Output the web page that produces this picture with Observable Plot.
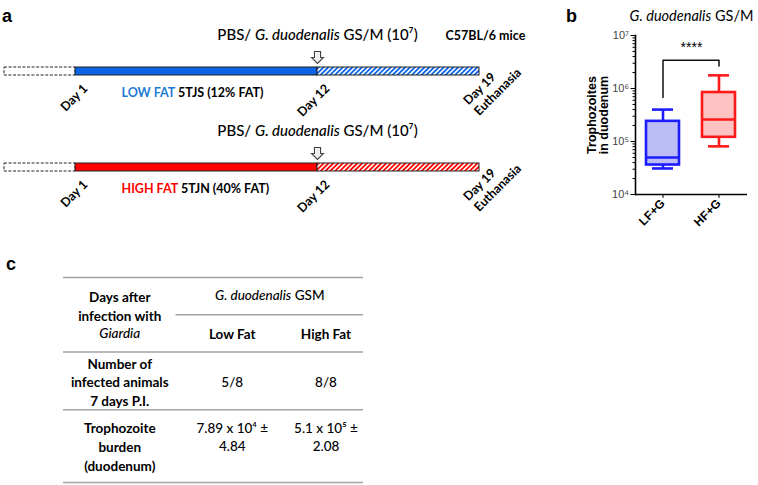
<!DOCTYPE html>
<html>
<head>
<meta charset="utf-8">
<script src="https://cdn.jsdelivr.net/npm/d3@7"></script>
<script src="https://cdn.jsdelivr.net/npm/@observablehq/plot@0.6"></script>
<style>
  body { margin: 0; background: #fff; }
  #wrap { position: relative; width: 758px; height: 485px; overflow: hidden; background: #fff; }
  .panel { position: absolute; }
  .letter { position: absolute; font: bold 18px "Liberation Sans", Arial, sans-serif; line-height: 1; color: #000; }
</style>
</head>
<body>
<div id="wrap">
  <div class="letter" style="left:2px;top:7px">a</div>
  <div class="letter" style="left:566px;top:7px">b</div>
  <div class="letter" style="left:6px;top:255px">c</div>
  <div id="panelA" class="panel" style="left:0;top:0;width:540px;height:235px"></div>
  <div id="panelB" class="panel" style="left:540px;top:0;width:218px;height:240px"></div>
  <div id="panelC" class="panel" style="left:0;top:255px;width:400px;height:230px"></div>
</div>
<script>
// ---------------- Panel a: experimental design ----------------
const diets = ["LOW FAT", "HIGH FAT"];
const dietFormulas = ["5TJS (12% FAT)", "5TJN (40% FAT)"];
const phaseNames = ["acclimation", "diet", "infection"];
const phaseStartDay = [-2, 1, 12];
const phaseEndDay = [1, 12, 19];
const dayMarks = [1, 12];
const dayMarkLabels = ["Day 1", "Day 12"];
const endDay = 19;
const endLabel = "Day 19\nEuthanasia";
const infectionDay = 12;
const inoculumLabel = "PBS/ _G. duodenalis_ GS/M (10⁷)";
const strainLabel = "C57BL/6 mice";

// ---------------- Panel b: trophozoites box plot ----------------
const groups = ["LF+G", "HF+G"];
const whiskerLow = [3.1e4, 8.1e4];
const quartile1 = [3.6e4, 1.2e5];
const medians = [5.0e4, 2.6e5];
const quartile3 = [2.4e5, 8.4e5];
const whiskerHigh = [4.0e5, 1.77e6];
const yMajorTicks = [1e4, 1e5, 1e6, 1e7];
const bracketLegBottom = [6.8e5, 2.65e6];
const bracketTop = 3.4e6;
const significance = "****";
const significanceY = 5.9e6;
const panelBTitle = "_G. duodenalis_ GS/M";
const panelBYLabel = "Trophozoites\nin duodenum";

// ---------------- Panel c: table ----------------
const tableGroupTitle = "_G. duodenalis_ GSM";
const tableColumns = ["Low Fat", "High Fat"];
const tableHeader = "Days after\ninfection with";
const tableHeaderItalic = "Giardia";
const rowLabels = ["Number of\ninfected animals\n7 days P.I.", "Trophozoite\nburden\n(duodenum)"];
const infectedAnimals = ["5/8", "8/8"];
const trophozoiteBurden = ["7.89 x 10⁴ ±\n4.84", "5.1 x 10⁵ ±\n2.08"];

// ---------------- styles ----------------
const dietBarColor = {"LOW FAT": "#0b63e6", "HIGH FAT": "#ff0000"};
const dietTextColor = {"LOW FAT": "#1c7bd6", "HIGH FAT": "#ff0000"};
const hatchId = {"LOW FAT": "hatch-blue", "HIGH FAT": "hatch-red"};
const boxStroke = {"LF+G": "#1c1cff", "HF+G": "#ff1a1a"};
const boxFill = {"LF+G": "#bcbcf7", "HF+G": "#ffc2c2"};
const calibriLike = "Lato, 'Open Sans', sans-serif";
const arialLike = "'Liberation Sans', Arial, sans-serif";

// rich text: _italic_ and {#color:text}
function richify(root) {
  root.querySelectorAll("text").forEach(t => {
    if (t.querySelector("tspan")) return;
    const s = t.textContent;
    if (!/_|\{#/.test(s)) return;
    t.textContent = "";
    const re = /_([^_]+)_|\{(#[0-9a-fA-F]+):([^}]+)\}|([^_{]+)/g;
    let m;
    while ((m = re.exec(s))) {
      const ts = document.createElementNS("http://www.w3.org/2000/svg", "tspan");
      if (m[1]) { ts.textContent = m[1]; ts.setAttribute("font-style", "italic"); }
      else if (m[2]) { ts.textContent = m[3]; ts.setAttribute("fill", m[2]); }
      else ts.textContent = m[4];
      t.appendChild(ts);
    }
  });
}

// ---------- Panel a ----------
const phaseRows = diets.flatMap(d => phaseNames.map((p, i) => ({diet: d, phase: p, start: phaseStartDay[i], end: phaseEndDay[i]})));
const dietRows = diets.map((d, i) => ({diet: d, label: `{${dietTextColor[d]}:${d}} ${dietFormulas[i]}`}));
const dayRows = diets.flatMap(d => dayMarks.map((day, i) => ({diet: d, day, label: dayMarkLabels[i]})));

const arrowSymbol = {
  draw(ctx, size) {
    const r = Math.sqrt(size / Math.PI);
    const h = 0.7 * r, sw = 0.36 * r, hw = 0.7 * r;
    ctx.moveTo(-sw, -h); ctx.lineTo(sw, -h); ctx.lineTo(sw, 0);
    ctx.lineTo(hw, 0); ctx.lineTo(0, h); ctx.lineTo(-hw, 0);
    ctx.lineTo(-sw, 0); ctx.closePath();
  }
};

const plotA = Plot.plot({
  width: 540, height: 235,
  style: {fontFamily: calibriLike, background: "transparent", color: "#000"},
  x: {type: "linear", domain: [phaseStartDay[0], ...phaseEndDay], range: [4, 75, 317, 479], axis: null},
  y: {type: "band", domain: diets, range: [66, 171.5], paddingInner: 0.912, paddingOuter: 0, axis: null},
  color: {type: "identity"},
  marks: [
    Plot.barX(phaseRows.filter(d => d.phase === "acclimation"), {
      x1: "start", x2: "end", y: "diet", fill: "white", stroke: "#222", strokeWidth: 1, strokeDasharray: "3,1.6"
    }),
    Plot.barX(phaseRows.filter(d => d.phase !== "acclimation"), {
      x1: "start", x2: "end", y: "diet",
      fill: d => d.phase === "diet" ? dietBarColor[d.diet] : `url(#${hatchId[d.diet]})`,
      stroke: "#222", strokeWidth: 1
    }),
    Plot.dot(dietRows, {x: () => infectionDay, y: "diet", dy: -14, r: 8.5, symbol: arrowSymbol, fill: "#f0f0f0", stroke: "#444", strokeWidth: 1.1}),
    Plot.text(dietRows, {x: () => infectionDay, y: "diet", text: () => inoculumLabel, dy: -36, fontSize: 15, fontWeight: 500}),
    Plot.text([strainLabel], {x: () => endDay, y: () => diets[0], text: d => d, textAnchor: "start", dx: -34, dy: -36, fontSize: 12.5, fontWeight: "bold"}),
    Plot.text(dietRows, {x: () => dayMarks[0], y: "diet", text: "label", textAnchor: "start", dx: 46, dy: 21, fontSize: 12.5, fontWeight: "bold"}),
    Plot.text(dayRows, {x: "day", y: "diet", text: "label", rotate: -45, textAnchor: "end", dx: 10, dy: 15, fontSize: 12.5, fontWeight: "bold"}),
    Plot.text(diets, {x: () => endDay, y: d => d, text: () => endLabel, rotate: -45, textAnchor: "start", dx: -9, dy: 36, lineHeight: 1.2, fontSize: 12.5, fontWeight: "bold"})
  ]
});
d3.select(plotA).insert("defs", ":first-child").html(`
  <pattern id="hatch-blue" patternUnits="userSpaceOnUse" width="3.4" height="3.4" patternTransform="rotate(45)">
    <rect width="3.4" height="3.4" fill="white"/><rect width="1.8" height="3.4" fill="${dietBarColor["LOW FAT"]}"/>
  </pattern>
  <pattern id="hatch-red" patternUnits="userSpaceOnUse" width="3.4" height="3.4" patternTransform="rotate(45)">
    <rect width="3.4" height="3.4" fill="white"/><rect width="1.8" height="3.4" fill="${dietBarColor["HIGH FAT"]}"/>
  </pattern>`);
richify(plotA);
document.getElementById("panelA").appendChild(plotA);

// ---------- Panel b ----------
const boxes = groups.map((g, i) => ({group: g, lo: whiskerLow[i], q1: quartile1[i], med: medians[i], q3: quartile3[i], hi: whiskerHigh[i]}));
const bracket = [
  {x: groups[0], y: bracketLegBottom[0]}, {x: groups[0], y: bracketTop},
  {x: groups[1], y: bracketTop}, {x: groups[1], y: bracketLegBottom[1]}
];
const sup = s => String(s).replace(/[0-9]/g, c => "⁰¹²³⁴⁵⁶⁷⁸⁹"[c]);
const minorTicks = yMajorTicks.slice(0, -1).flatMap(t => d3.range(2, 10).map(k => k * t));

const plotB = Plot.plot({
  width: 218, height: 240, marginLeft: 95, marginRight: 11, marginTop: 35, marginBottom: 46,
  style: {fontFamily: arialLike, background: "transparent", color: "#000"},
  x: {type: "band", domain: groups, paddingInner: 0.41, paddingOuter: 0.205},
  y: {type: "log", domain: [1e4, 1e7]},
  marks: [
    Plot.axisY(minorTicks, {tickSize: 2.5, tickFormat: () => "", label: null}),
    Plot.axisY(yMajorTicks, {tickSize: 4.5, tickPadding: 2, tickFormat: d => "10" + sup(Math.round(Math.log10(d))), fontSize: 11, fill: "#444", label: null}),
    Plot.axisX({tickSize: 4, tickRotate: -45, tickPadding: 3, fontSize: 12, fontWeight: "bold", label: null}),
    Plot.frame({anchor: "left", strokeWidth: 1.6}),
    Plot.ruleY([1e4], {strokeWidth: 1.6}),
    Plot.ruleX(boxes, {x: "group", y1: "lo", y2: "hi", stroke: d => boxStroke[d.group], strokeWidth: 2.6}),
    Plot.tickY(boxes, {x: "group", y: "lo", stroke: d => boxStroke[d.group], strokeWidth: 2.6, insetLeft: 6, insetRight: 6}),
    Plot.tickY(boxes, {x: "group", y: "hi", stroke: d => boxStroke[d.group], strokeWidth: 2.6, insetLeft: 6, insetRight: 6}),
    Plot.barY(boxes, {x: "group", y1: "q1", y2: "q3", fill: d => boxFill[d.group], stroke: d => boxStroke[d.group], strokeWidth: 2.6}),
    Plot.tickY(boxes, {x: "group", y: "med", stroke: d => boxStroke[d.group], strokeWidth: 2.6}),
    Plot.line(bracket, {x: "x", y: "y", stroke: "#111", strokeWidth: 1.5}),
    Plot.text([significance], {y: () => significanceY, text: d => d, fontSize: 14}),
    Plot.text([panelBYLabel], {frameAnchor: "left", text: d => d, rotate: -90, textAnchor: "middle", lineAnchor: "middle", dx: -37, fontSize: 12.5, fontWeight: "bold", lineHeight: 0.95}),
    Plot.text([panelBTitle], {frameAnchor: "top", text: d => d, dy: -25, fontSize: 14.5, fontFamily: calibriLike})
  ]
});
richify(plotB);
document.getElementById("panelB").appendChild(plotB);

// ---------- Panel c ----------
// column layout (table units): boundaries 0 | 1.5 | 3 | 4 ; rows in text-line units 0..11
const colCenter = [0.75, 2.25, 3.5];
const tableRules = [
  {y: 0, x1: 0, x2: 4}, {y: 2, x1: 1.5, x2: 4}, {y: 4, x1: 0, x2: 4},
  {y: 7.1, x1: 0, x2: 4}, {y: 11, x1: 0, x2: 4}
];
const rowCenter = [5.58, 9.04];
const boldCells = [
  {x: colCenter[0], y: 1.5, text: tableHeader},
  ...tableColumns.map((c, i) => ({x: colCenter[i + 1], y: 3, text: c})),
  ...rowLabels.map((r, i) => ({x: colCenter[0], y: rowCenter[i], text: r}))
];
const plainCells = [
  ...infectedAnimals.map((v, i) => ({x: colCenter[i + 1], y: rowCenter[0], text: v})),
  ...trophozoiteBurden.map((v, i) => ({x: colCenter[i + 1], y: 8.5, text: v}))
];

const plotC = Plot.plot({
  width: 400, height: 230, margin: 0,
  style: {fontFamily: calibriLike, background: "transparent", color: "#000"},
  x: {type: "linear", domain: [0, 4], range: [63, 363], axis: null},
  y: {type: "linear", domain: [0, 11], range: [22, 227], axis: null},
  marks: [
    Plot.ruleY(tableRules, {y: "y", x1: "x1", x2: "x2", stroke: "#a3a3a3", strokeWidth: 1.6}),
    Plot.text(boldCells, {x: "x", y: "y", text: "text", fontSize: 13.5, fontWeight: "bold", lineHeight: 1.38}),
    Plot.text(plainCells, {x: "x", y: "y", text: "text", fontSize: 13.5, fontWeight: 500, lineHeight: 1.38}),
    Plot.text([tableHeaderItalic], {x: () => colCenter[0], y: () => 3, text: d => d, fontSize: 13.5, fontWeight: 500, fontStyle: "italic"}),
    Plot.text([tableGroupTitle], {x: () => 2.75, y: () => 1, text: d => d, fontSize: 13.5, fontWeight: 500})
  ]
});
richify(plotC);
document.getElementById("panelC").appendChild(plotC);
</script>
</body>
</html>
